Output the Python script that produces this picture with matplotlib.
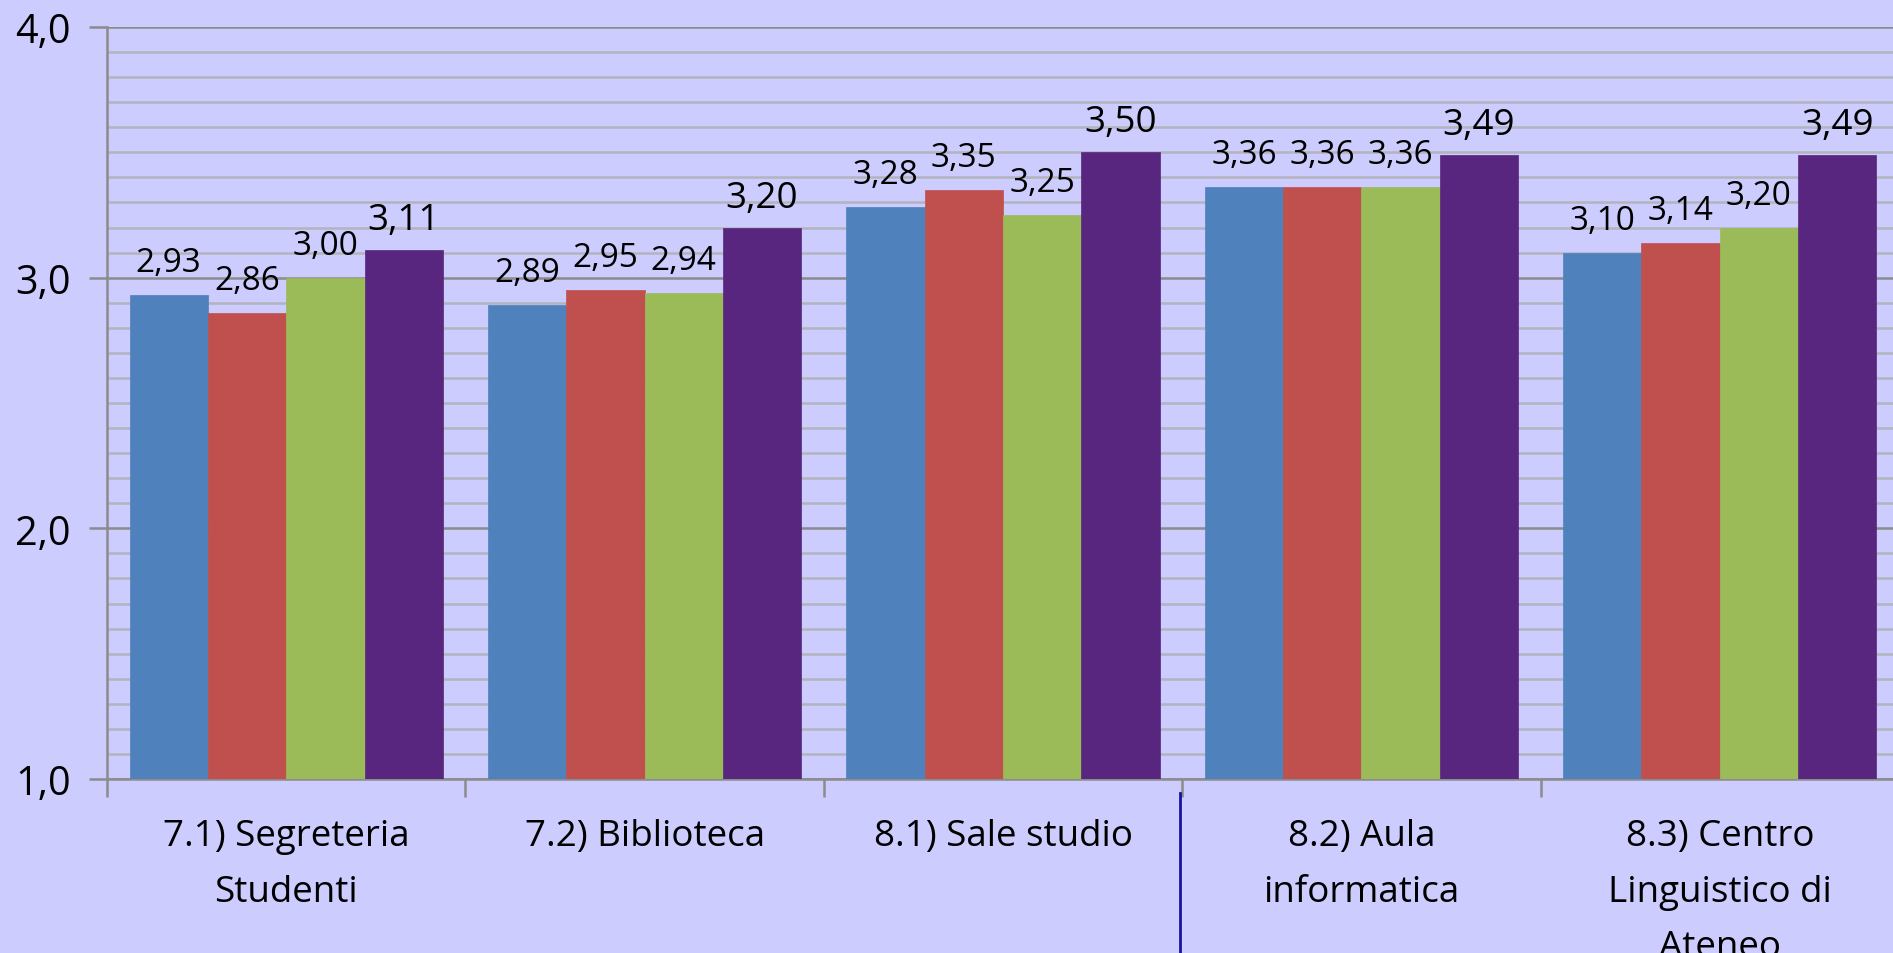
import matplotlib.pyplot as plt
import numpy as np
from matplotlib.lines import Line2D
from matplotlib.ticker import MultipleLocator, FuncFormatter

plt.rcParams['font.family'] = ['Open Sans', 'DejaVu Sans']

categories = ['7.1) Segreteria\nStudenti', '7.2) Biblioteca', '8.1) Sale studio',
              '8.2) Aula\ninformatica', '8.3) Centro\nLinguistico di\nAteneo']
s1 = [2.93, 2.89, 3.28, 3.36, 3.10]
s2 = [2.86, 2.95, 3.35, 3.36, 3.14]
s3 = [3.00, 2.94, 3.25, 3.36, 3.20]
s4 = [3.11, 3.20, 3.50, 3.49, 3.49]

colors = ['#4F81BD', '#C0504D', '#9BBB59', '#58267E']
bg = '#CCCCFF'

fig = plt.figure(figsize=(18.93, 9.54), dpi=100, facecolor=bg)
ax = fig.add_axes([107/1893, 1-780/954, 1792/1893, 752/954])
ax.set_facecolor(bg)

x = np.arange(len(categories))
w = 0.2185
series = [s1, s2, s3, s4]
for i, s in enumerate(series):
    pos = x + (i - 1.5) * w
    ax.bar(pos, s, width=w, bottom=0, color=colors[i], zorder=3,
           edgecolor=colors[i], linewidth=0.5)
    fs = 26.5 if i == 3 else 24
    off = 12 if i == 3 else 16
    for p, v in zip(pos, s):
        ax.annotate(('%.2f' % v).replace('.', ','), (p, v), xytext=(0, off),
                    textcoords='offset pixels', ha='center', va='bottom',
                    fontsize=fs, color='black', zorder=4)

ax.set_xlim(-0.5, 4.5)
ax.set_ylim(1.0, 4.0)

ax.yaxis.set_major_locator(MultipleLocator(1.0))
ax.yaxis.set_minor_locator(MultipleLocator(0.1))
ax.yaxis.set_major_formatter(FuncFormatter(lambda v, _: ('%.1f' % v).replace('.', ',')))
ax.grid(axis='y', which='minor', color='#B4B4BE', linewidth=1.8, zorder=1)
ax.grid(axis='y', which='major', color='#8C8C8C', linewidth=1.8, zorder=1)
ax.tick_params(axis='y', which='major', length=13, width=1.8, color='#8C8C8C',
               labelsize=28.5, pad=13)
ax.tick_params(axis='y', which='minor', length=0)

ax.set_xticks(np.arange(-0.5, 5.0, 1.0))
ax.set_xticklabels([])
ax.tick_params(axis='x', which='major', length=13, width=1.8, color='#8C8C8C')
for xi, lab in zip(x, categories):
    ax.text(xi, -0.052, lab, transform=ax.get_xaxis_transform(), ha='center',
            va='top', fontsize=26.5, linespacing=1.72, clip_on=False)

for side in ['top', 'right']:
    ax.spines[side].set_visible(False)
for side in ['left', 'bottom']:
    ax.spines[side].set_color('#8C8C8C')
    ax.spines[side].set_linewidth(1.8)
ax.spines['left'].set_zorder(5)

fig.add_artist(Line2D([1180/1893, 1180/1893], [0, (954-794)/954],
                      color='#1414A0', linewidth=2))

fig.savefig('out.png', dpi=100, facecolor=bg)
